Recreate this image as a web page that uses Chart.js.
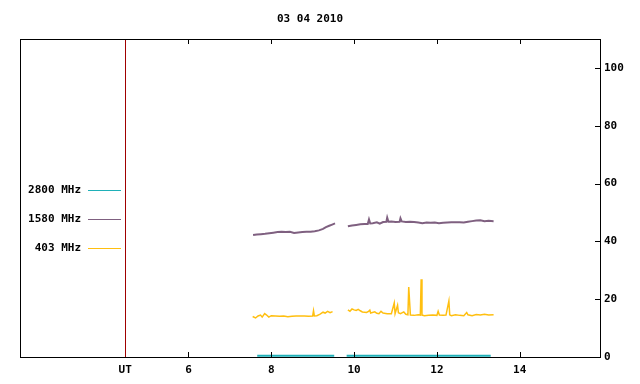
<!DOCTYPE html>
<html>
<head>
<meta charset="utf-8">
<script src="https://cdn.jsdelivr.net/npm/chart.js@4"></script>
<style>
  body { margin: 0; background: #fff; }
</style>
</head>
<body>
<canvas id="chart1" width="640" height="384"></canvas>
<script>
// datos (hora UT / flujo)
var titulo = '03 04 2010';
var xTicks = [4.47, 6, 8, 10, 12, 14];
var yTicks = [0, 20, 40, 60, 80, 100];
var utLinea = 4.47;

var labels = ['2800 MHz', '1580 MHz', '403 MHz'];
var colores = ['#1fb0b8', '#7f6080', '#ffbf10'];

var t2800 = [7.66, 9.52, 9.67, 9.82, 13.3];
var v2800 = [0.4, 0.4, null, 0.4, 0.4];

var t1580 = [7.56, 7.65, 7.75, 7.85, 7.95, 8.05, 8.15, 8.25, 8.35, 8.45, 8.55, 8.65, 8.75, 8.85, 8.95, 9.05, 9.15, 9.25, 9.32, 9.40, 9.47, 9.54,
  9.7,
  9.85, 9.95, 10.05, 10.15, 10.25, 10.33, 10.36, 10.39, 10.45, 10.55, 10.62, 10.70, 10.78, 10.80, 10.83, 10.9, 11.0, 11.1, 11.12, 11.15, 11.25, 11.35, 11.45, 11.55, 11.65, 11.75, 11.85, 11.95, 12.05, 12.15, 12.25, 12.35, 12.45, 12.55, 12.65, 12.75, 12.85, 12.95, 13.05, 13.15, 13.25, 13.37];
var v1580 = [42.2, 42.4, 42.5, 42.6, 42.8, 43.0, 43.2, 43.3, 43.2, 43.3, 42.9, 43.1, 43.2, 43.3, 43.3, 43.5, 43.8, 44.3, 44.9, 45.4, 45.8, 46.2,
  null,
  45.2, 45.5, 45.7, 45.9, 46.0, 46.0, 47.6, 46.2, 46.3, 46.6, 46.1, 46.7, 46.8, 48.2, 46.8, 46.9, 46.7, 46.8, 48.0, 46.9, 46.7, 46.8, 46.7, 46.5, 46.3, 46.5, 46.4, 46.5, 46.3, 46.4, 46.5, 46.6, 46.6, 46.6, 46.5, 46.8, 47.0, 47.2, 47.3, 47.0, 47.1, 47.0];

var t403 = [7.55, 7.62, 7.68, 7.74, 7.78, 7.84, 7.88, 7.94, 8.0, 8.1, 8.2, 8.3, 8.4, 8.5, 8.6, 8.7, 8.8, 8.9, 9.0, 9.02, 9.04, 9.1, 9.18, 9.25, 9.3, 9.36, 9.42, 9.48,
  9.7,
  9.85, 9.9, 9.95, 10.0, 10.05, 10.1, 10.15, 10.2, 10.3, 10.35, 10.38, 10.4, 10.5, 10.55, 10.6, 10.65, 10.7, 10.8, 10.9, 10.97, 10.99, 11.05, 11.07, 11.12, 11.2, 11.25, 11.3, 11.32, 11.34, 11.36, 11.45, 11.55, 11.6, 11.62, 11.64, 11.7, 11.8, 11.9, 12.0, 12.03, 12.06, 12.15, 12.22, 12.29, 12.31, 12.35, 12.45, 12.55, 12.65, 12.72, 12.75, 12.85, 12.95, 13.05, 13.15, 13.25, 13.37];
var v403 = [14.0, 13.5, 14.2, 14.5, 13.8, 15.0, 14.6, 13.8, 14.3, 14.2, 14.1, 14.2, 13.9, 14.1, 14.2, 14.2, 14.2, 14.1, 14.2, 16.0, 14.2, 14.3, 14.8, 15.5, 15.2, 15.8, 15.3, 15.7,
  null,
  16.3, 15.8, 16.6, 16.3, 16.1, 16.5, 16.0, 15.6, 15.4, 15.8, 16.2, 15.2, 15.6, 15.1, 15.0, 15.8, 15.2, 15.0, 15.0, 18.7, 15.0, 17.9, 15.3, 15.0, 15.6, 14.8, 14.6, 24.2, 19.3, 14.5, 14.4, 14.6, 14.5, 26.9, 14.5, 14.3, 14.4, 14.5, 14.4, 15.8, 14.5, 14.4, 14.5, 19.4, 14.6, 14.3, 14.6, 14.4, 14.3, 15.4, 14.6, 14.3, 14.7, 14.5, 14.8, 14.5, 14.6];

function puntos(t, v) {
    return t.map(function (x, i) { return { x: x, y: v[i] }; });
}

var fuente = { family: 'DejaVu Sans Mono', size: 11, weight: 'bold' };

var marco = {
    id: 'marco',
    beforeDatasetsDraw: function (chart) {
        var c = chart.ctx, a = chart.chartArea;
        var x = chart.scales.x.getPixelForValue(utLinea);
        c.save();
        c.strokeStyle = '#a00000';
        c.lineWidth = 1;
        c.beginPath();
        c.moveTo(Math.round(x) + 0.5, a.top);
        c.lineTo(Math.round(x) + 0.5, a.bottom);
        c.stroke();
        c.restore();
    },
    afterDraw: function (chart) {
        var c = chart.ctx, a = chart.chartArea;
        c.save();
        c.strokeStyle = '#000';
        c.lineWidth = 1;
        c.strokeRect(Math.round(a.left) + 0.5, Math.round(a.top) + 0.5, Math.round(a.right - a.left), Math.round(a.bottom - a.top));
        c.beginPath();
        xTicks.slice(1).forEach(function (v) {
            var px = Math.round(chart.scales.x.getPixelForValue(v)) + 0.5;
            c.moveTo(px, a.bottom); c.lineTo(px, a.bottom - 5);
            c.moveTo(px, a.top); c.lineTo(px, a.top + 5);
        });
        yTicks.forEach(function (v) {
            var py = Math.round(chart.scales.y.getPixelForValue(v)) + 0.5;
            c.moveTo(a.right, py); c.lineTo(a.right - 5, py);
        });
        c.stroke();
        // titulo
        c.fillStyle = '#000';
        c.font = 'bold 11px "DejaVu Sans Mono"';
        c.textAlign = 'center';
        c.textBaseline = 'middle';
        c.fillText(titulo, (a.left + a.right) / 2, 19);
        // leyenda
        c.textAlign = 'right';
        labels.forEach(function (l, i) {
            var y = 190 + i * 29;
            c.fillStyle = '#000';
            c.fillText(l, 81, y);
            c.strokeStyle = colores[i];
            c.beginPath();
            c.moveTo(88, y + 0.5);
            c.lineTo(121, y + 0.5);
            c.stroke();
        });
        c.restore();
    }
};

document.addEventListener('DOMContentLoaded', function () {
    var ctx1 = document.getElementById('chart1').getContext('2d');
    var chart1 = new Chart(ctx1, {
        type: 'line',
        data: {
            datasets: [{
                label: labels[0],
                data: puntos(t2800, v2800),
                borderColor: colores[0],
                borderWidth: 2
            }, {
                label: labels[1],
                data: puntos(t1580, v1580),
                borderColor: colores[1],
                borderWidth: 2
            }, {
                label: labels[2],
                data: puntos(t403, v403),
                borderColor: colores[2],
                borderWidth: 1.5
            }]
        },
        options: {
            responsive: false,
            animation: false,
            spanGaps: false,
            elements: { point: { radius: 0 }, line: { tension: 0 } },
            layout: { padding: { top: 39, left: 20, right: 0, bottom: 0 } },
            plugins: { legend: { display: false }, tooltip: { enabled: false } },
            scales: {
                x: {
                    type: 'linear',
                    min: 1.93,
                    max: 15.94,
                    grid: { display: false },
                    border: { display: false },
                    afterBuildTicks: function (s) { s.ticks = xTicks.map(function (v) { return { value: v }; }); },
                    afterFit: function (s) { s.height = 27; },
                    ticks: {
                        color: '#000',
                        font: fuente,
                        padding: -1,
                        maxRotation: 0,
                        callback: function (v) { return v === utLinea ? 'UT' : v; }
                    }
                },
                y: {
                    position: 'right',
                    min: 0,
                    max: 110,
                    grid: { display: false },
                    border: { display: false },
                    afterBuildTicks: function (s) { s.ticks = yTicks.map(function (v) { return { value: v }; }); },
                    afterFit: function (s) { s.width = 40; },
                    ticks: { color: '#000', font: fuente, padding: -4 }
                }
            }
        },
        plugins: [marco]
    });
});
</script>
</body>
</html>
